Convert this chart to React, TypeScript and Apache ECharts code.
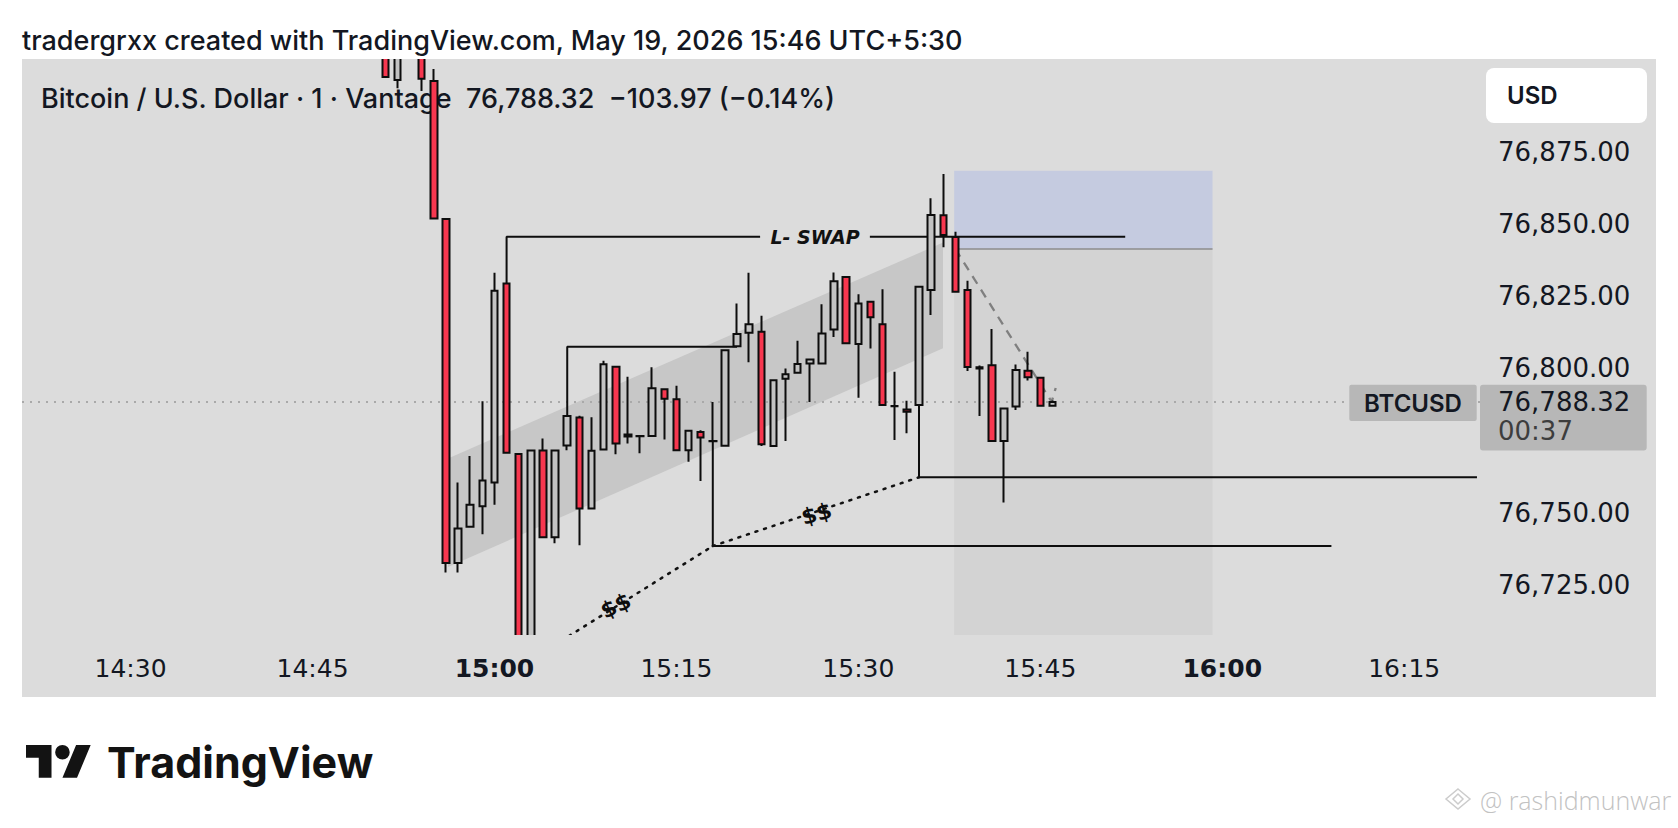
import React, { useEffect, useRef } from "react";
import * as echarts from "echarts";

// ---- candle data: minutes relative to 15:00 ----
const MINUTES = [-9, -8, -7, -6, -5, -4, -3, -2, -1, 0, 1, 2, 3, 4, 5, 6, 7, 8, 9, 10, 11, 12, 13, 14, 15, 16, 17, 18, 19, 20, 21, 22, 23, 24, 25, 26, 27, 28, 29, 30, 31, 32, 33, 34, 35, 36, 37, 38, 39, 40, 41, 42, 43, 44, 45, 46];
const OPEN = [76912, 76899.8, 76910, 76913, 76899.5, 76851.7, 76732.65, 76745.2, 76752.25, 76760.5, 76829.4, 76770.4, 76696, 76771.6, 76741.5, 76773.3, 76783.0, 76751.5, 76771.95, 76800.55, 76777.1, 76776.6, 76776.55, 76792.8, 76789.3, 76771.7, 76778.0, 76774.9, 76773.2, 76807.7, 76812.3, 76812.7, 76773.1, 76796.4, 76798.5, 76801.7, 76801.7, 76813.5, 76831.6, 76808.4, 76823.1, 76815.3, 76787.0, 76785.8, 76787.3, 76827.1, 76853.0, 76845.5, 76827.1, 76800.35, 76801.1, 76774.9, 76786.8, 76799.2, 76796.75, 76787.05];
const CLOSE = [76900.9, 76910, 76914, 76900.3, 76851.9, 76732.65, 76744.56, 76752.8, 76761.15, 76826.9, 76770.8, 76695, 76771.6, 76741.5, 76771.6, 76783.5, 76751.5, 76771.5, 76801.4, 76774.0, 76776.4, 76776.5, 76793.1, 76789.5, 76771.7, 76778.4, 76776.1, 76774.8, 76806.3, 76811.9, 76815.3, 76773.7, 76795.9, 76798.0, 76801.5, 76803.1, 76812.1, 76830.2, 76808.7, 76822.5, 76817.7, 76787.3, 76786.9, 76785.0, 76828.3, 76853.1, 76846.2, 76826.5, 76800.45, 76800.0, 76774.9, 76786.15, 76799.4, 76796.9, 76787.05, 76788.32];
const LOW = [76900.9, 76897.0, 76908.5, 76896.0, 76851.5, 76729.3, 76729.3, 76745.2, 76742.6, 76752.8, 76770.8, 76692, 76693, 76741.5, 76739.5, 76771.7, 76738.8, 76751.5, 76771.95, 76770.3, 76774.0, 76770.6, 76776.55, 76775.4, 76771.7, 76767.7, 76761.0, 76774.8, 76773.2, 76807.7, 76802.1, 76773.1, 76773.1, 76774.9, 76798.5, 76788.4, 76801.7, 76810.9, 76808.7, 76789.8, 76806.9, 76787.3, 76775.2, 76777.5, 76787.3, 76818.5, 76841.9, 76826.5, 76799.1, 76783.5, 76774.9, 76753.6, 76785.6, 76795.8, 76787.05, 76786.9];
const HIGH = [76914, 76912, 76917, 76915, 76903.6, 76851.7, 76760.46, 76769.7, 76788.6, 76833.1, 76829.4, 76770.4, 76771.6, 76775.7, 76771.6, 76783.5, 76783.6, 76783.1, 76802.6, 76800.55, 76797.1, 76776.6, 76800.35, 76792.8, 76794.0, 76778.4, 76778.6, 76788.4, 76806.6, 76822.5, 76833.1, 76818.2, 76795.9, 76800.0, 76809.6, 76803.1, 76822.2, 76833.2, 76831.6, 76825.7, 76823.1, 76827.35, 76798.8, 76788.8, 76828.3, 76858.9, 76867.3, 76847.3, 76830.3, 76801.0, 76813.6, 76786.15, 76801.3, 76805.75, 76797.1, 76788.9];

const LAST_PRICE = 76788.32;
const COUNTDOWN = "00:37";

// ---- tick labels ----
const X_TICKS = [-30, -15, 0, 15, 30, 45, 60, 75];
const Y_TICKS = [76725, 76750, 76800, 76825, 76850, 76875];

// ---- drawings (minute, price) ----
const CHANNEL_T = [-3.83, 36.98, 36.98, -3.83];
const CHANNEL_P = [76768.84, 76843.56, 76806.93, 76731.2];
const LSWAP_A = [[1, 76829.4], [1, 76845.6], [21.9, 76845.6]];
const LSWAP_B = [[30.95, 76845.6], [52, 76845.6]];
const LSWAP_TEXT = [26.43, 76845.6];
const SWING_HIGH = [[6, 76783.5], [6, 76807.5], [20, 76807.5]];
const SWING_LOW_1 = [[18, 76774.8], [18, 76738.5], [69, 76738.5]];
const SWING_LOW_2 = [[35, 76787.3], [35, 76762.3], [81, 76762.3]];
const TREND_A = [[3, 76699.1], [18, 76738.5]];
const TREND_B = [[18, 76738.5], [35, 76762.3]];
const DOLLAR_1 = [10.0, 76717.8];
const DOLLAR_2 = [26.56, 76749.65];
const ZONE_T = [37.9, 59.2];
const ZONE_TOP = 76868.4;
const ZONE_ENTRY = 76841.3;
const ZONE_BOTTOM = 76690;
const PROJECTION = [[38, 76841.3], [45.94, 76788.4], [46.27, 76793.2]];

const X_MIN = -38.95;
const X_MAX = 81.25;
const Y_MIN = 76707.7;
const Y_MAX = 76907.1;

echarts.graphic.registerShape(
  "tvlogo",
  echarts.graphic.extendPath(
    "M14 22H7V11H0V4h14v18zM28 22h-8l7.5-18h8L28 22zM24 8a4 4 0 1 1-8 0a4 4 0 1 1 8 0z",
    {}
  )
);

const INK = "#131722";
const NUM_FONT = "DejaVu Sans";
const UI_FONT = "Inter";
const PANEL = "#dcdcdc";

function fmtPrice(v: number): string {
  const s = v.toFixed(2);
  const [i, d] = s.split(".");
  return i.replace(/\B(?=(\d{3})+(?!\d))/g, ",") + "." + d;
}

function fmtTime(v: number): string {
  const m = 900 + Math.round(v);
  const h = Math.floor(m / 60);
  const mm = m % 60;
  const s = `${h}:${String(mm).padStart(2, "0")}`;
  return mm === 0 ? `{b|${s}}` : s;
}

function lineSeries(data: number[][], lineStyle: any, z = 3) {
  return {
    type: "line",
    data,
    symbol: "none",
    silent: true,
    clip: true,
    z,
    lineStyle,
  };
}

function textPoint(pt: number[], text: string, label: any) {
  return {
    type: "scatter",
    data: [pt],
    symbol: "circle",
    symbolSize: 1,
    silent: true,
    z: 6,
    itemStyle: { color: "rgba(0,0,0,0)", opacity: 1 },
    label: { show: true, position: "inside", formatter: text, opacity: 1, textBorderWidth: 0, ...label },
  };
}

export default function App() {
  const ref = useRef<HTMLDivElement>(null);

  useEffect(() => {
    const el = ref.current;
    if (!el) return;
    const chart = echarts.init(el, null, { renderer: "svg" });

    const candles = MINUTES.map((t, i) => [t, OPEN[i], CLOSE[i], LOW[i], HIGH[i]]);
    const black = { color: "#0d0d0d", width: 2 };

    const option: any = {
      animation: false,
      backgroundColor: "#ffffff",
      grid: { left: 22, right: 198, top: 59, bottom: 193, containLabel: false },
      xAxis: {
        type: "value",
        min: X_MIN,
        max: X_MAX,
        z: 20,
        axisLine: { show: false },
        axisTick: { show: false },
        splitLine: { show: false },
        axisLabel: {
          customValues: X_TICKS,
          formatter: fmtTime,
          margin: 21,
          fontFamily: NUM_FONT,
          fontSize: 25,
          color: INK,
          rich: { b: { fontFamily: NUM_FONT, fontSize: 25, fontWeight: "bold", color: INK } },
        },
      },
      yAxis: {
        type: "value",
        position: "right",
        min: Y_MIN,
        max: Y_MAX,
        scale: true,
        z: 20,
        axisLine: { show: false },
        axisTick: { show: false },
        splitLine: { show: false },
        axisLabel: {
          customValues: Y_TICKS,
          formatter: (v: number) => fmtPrice(v),
          margin: 18,
          align: "left",
          fontFamily: NUM_FONT,
          fontSize: 26,
          color: INK,
        },
      },
      series: [
        {
          type: "custom",
          z: 1,
          clip: true,
          silent: true,
          data: [[ZONE_T[0], ZONE_TOP]],
          renderItem: (_p: any, api: any) => {
            const tl = api.coord([ZONE_T[0], ZONE_TOP]);
            const mr = api.coord([ZONE_T[1], ZONE_ENTRY]);
            const br = api.coord([ZONE_T[1], ZONE_BOTTOM]);
            return {
              type: "group",
              children: [
                { type: "rect", shape: { x: tl[0], y: tl[1], width: mr[0] - tl[0], height: mr[1] - tl[1] }, style: { fill: "#c5cbe0" } },
                { type: "rect", shape: { x: tl[0], y: mr[1], width: mr[0] - tl[0], height: br[1] - mr[1] }, style: { fill: "#d3d3d3" } },
              ],
            };
          },
        },
        {
          type: "custom",
          z: 2,
          clip: true,
          silent: true,
          data: [[CHANNEL_T[0], CHANNEL_P[0]]],
          renderItem: (_p: any, api: any) => {
            const pts = CHANNEL_T.map((t, i) => api.coord([t, CHANNEL_P[i]]));
            return { type: "polygon", shape: { points: pts }, style: { fill: "#c7c7c7" } };
          },
        },
        lineSeries([[ZONE_T[0], ZONE_ENTRY], [ZONE_T[1], ZONE_ENTRY]], { color: "#8c8c8c", width: 1.5 }, 2),
        lineSeries([[X_MIN, LAST_PRICE], [X_MAX, LAST_PRICE]], { color: "#a9a9a9", width: 2, type: [2, 6] }, 3),
        lineSeries(LSWAP_A, black),
        lineSeries(LSWAP_B, black),
        lineSeries(SWING_HIGH, black),
        lineSeries(SWING_LOW_1, black),
        lineSeries(SWING_LOW_2, black),
        lineSeries(TREND_A, { color: "#111", width: 2.5, type: [2, 7], cap: "round" }),
        lineSeries(TREND_B, { color: "#111", width: 2.5, type: [2, 7], cap: "round" }),
        lineSeries(PROJECTION, { color: "#7f7f7f", width: 2.3, type: [9, 7] }, 4),
        {
          type: "candlestick",
          data: candles,
          barWidth: 7,
          clip: true,
          z: 5,
          silent: true,
          itemStyle: {
            color: "#c3c3c3",
            color0: "#f7374f",
            borderColor: "#0d0d0d",
            borderColor0: "#0d0d0d",
            borderColorDoji: "#0d0d0d",
            borderWidth: 2,
          },
        },
        textPoint(LSWAP_TEXT, "L- SWAP", {
          fontFamily: NUM_FONT,
          fontStyle: "italic",
          fontWeight: "bold",
          fontSize: 19,
          color: "#111111",
        }),
        textPoint(DOLLAR_1, "$$", { fontFamily: NUM_FONT, fontWeight: "bold", fontSize: 22, color: "#0d0d0d", rotate: 25 }),
        textPoint(DOLLAR_2, "$$", { fontFamily: NUM_FONT, fontWeight: "bold", fontSize: 22, color: "#0d0d0d", rotate: 15 }),
      ],
    };

    chart.setOption(option);

    const yLast = chart.convertToPixel({ yAxisIndex: 0 }, LAST_PRICE) as number;
    const tagTop = yLast - 17.3;

    const graphic: any[] = [
      { type: "rect", z: -1, shape: { x: 22, y: 59, width: 1634, height: 638 }, style: { fill: PANEL } },
      // masks keeping candles inside the plot area
      { type: "rect", z: 8, shape: { x: 0, y: 0, width: 1678, height: 59 }, style: { fill: "#ffffff" } },
      { type: "rect", z: 8, shape: { x: 22, y: 635, width: 1458, height: 62 }, style: { fill: PANEL } },
      {
        type: "text",
        z: 10,
        x: 22,
        y: 40,
        style: {
          text: "tradergrxx created with TradingView.com, May 19, 2026 15:46 UTC+5:30",
          fontFamily: UI_FONT,
          fontSize: 27,
          fontWeight: 500,
          fill: INK,
          verticalAlign: "middle",
        },
      },
      {
        type: "text",
        z: 1,
        x: 41,
        y: 98.5,
        style: {
          text: "Bitcoin / U.S. Dollar · 1 · Vantage  76,788.32  −103.97 (−0.14%)",
          fontFamily: UI_FONT,
          fontSize: 27,
          fontWeight: 500,
          fill: INK,
          verticalAlign: "middle",
        },
      },
      { type: "rect", z: 10, shape: { x: 1486, y: 68, width: 161, height: 55, r: 8 }, style: { fill: "#ffffff" } },
      {
        type: "text",
        z: 11,
        x: 1507,
        y: 95.5,
        style: { text: "USD", fontFamily: UI_FONT, fontSize: 24, fontWeight: 600, fill: INK, verticalAlign: "middle" },
      },
      { type: "rect", z: 10, shape: { x: 1349.3, y: tagTop, width: 127.4, height: 36.3, r: 2 }, style: { fill: "#b7b7b7" } },
      {
        type: "text",
        z: 11,
        x: 1413,
        y: yLast + 0.9,
        style: { text: "BTCUSD", fontFamily: UI_FONT, fontSize: 24, fontWeight: 600, fill: INK, align: "center", verticalAlign: "middle" },
      },
      { type: "rect", z: 10, shape: { x: 1480, y: tagTop, width: 166.7, height: 65.7, r: 3 }, style: { fill: "#b7b7b7" } },
      {
        type: "text",
        z: 11,
        x: 1498,
        y: yLast,
        style: { text: fmtPrice(LAST_PRICE), fontFamily: NUM_FONT, fontSize: 26, fill: INK, verticalAlign: "middle" },
      },
      {
        type: "text",
        z: 11,
        x: 1498,
        y: yLast + 28.4,
        style: { text: COUNTDOWN, fontFamily: NUM_FONT, fontSize: 26, fill: "#3d3d3d", verticalAlign: "middle" },
      },
      { type: "tvlogo", z: 10, x: 26, y: 737.7, scaleX: 1.822, scaleY: 1.822, style: { fill: "#131313" } },
      {
        type: "text",
        z: 10,
        x: 107,
        y: 762,
        style: { text: "TradingView", fontFamily: UI_FONT, fontSize: 43, fontWeight: 700, fill: "#131313", verticalAlign: "middle" },
      },
      {
        type: "polygon",
        z: 10,
        shape: { points: [[1458, 789], [1470, 799], [1458, 809], [1446, 799]] },
        style: { fill: "none", stroke: "#cccccc", lineWidth: 1.5 },
      },
      {
        type: "polygon",
        z: 10,
        shape: { points: [[1458, 794], [1463, 799], [1458, 804], [1453, 799]] },
        style: { fill: "none", stroke: "#cccccc", lineWidth: 1.5 },
      },
      {
        type: "text",
        z: 10,
        x: 1480,
        y: 800,
        style: { text: "@ rashidmunwar", fontFamily: "Open Sans", fontSize: 25, fontWeight: 300, fill: "#c2c2c2", verticalAlign: "middle" },
      },
    ];

    chart.setOption({ graphic });

    return () => {
      chart.dispose();
    };
  }, []);

  return <div ref={ref} style={{ position: "fixed", left: 0, top: 0, width: 1678, height: 828 }} />;
}
